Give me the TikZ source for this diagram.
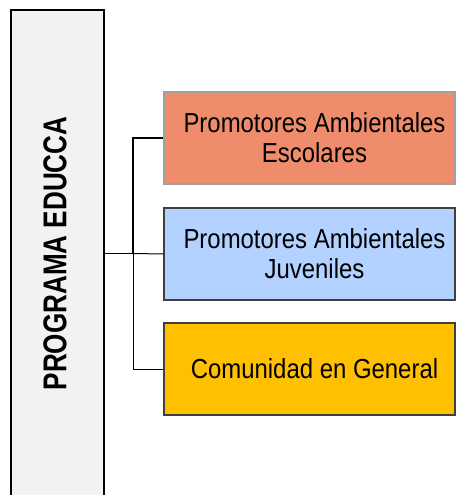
\documentclass[tikz,border=0pt]{standalone}
\usepackage{fontspec}
\setmainfont{Liberation Sans}
\usepackage{tikz}
\usetikzlibrary{positioning}

\definecolor{progfill}{RGB}{242,242,242}
\definecolor{escfill}{RGB}{239,140,107}
\definecolor{escline}{RGB}{160,160,160}
\definecolor{juvfill}{RGB}{180,210,255}
\definecolor{comfill}{RGB}{255,192,0}
\definecolor{boxline}{RGB}{64,64,64}
\newcommand{\angosto}[2][0.87]{\scalebox{#1}[1]{#2}}

\begin{document}
\begin{tikzpicture}[x=1pt,y=1pt,yscale=-1,xscale=1,
  grupo/.style={draw=boxline,line width=1.2,minimum width=291,minimum height=92,inner sep=0pt},
  grupotxt/.style={inner sep=0pt,align=center,font=\fontsize{27.5}{30}\selectfont}]
\useasboundingbox (0,0) rectangle (456,495);
\clip (0,0) rectangle (456,495);

%Programa
\node (prog) [draw=black,fill=progfill,line width=2,minimum width=93,minimum height=487,inner sep=0pt] at (57.5,253.5) {};
\node (progtxt) [rotate=90,font=\bfseries\fontsize{33}{36}\selectfont] at ([xshift=-2.5]prog.center) {\angosto[0.79]{PROGRAMA EDUCCA}};

%Grupos
\node (esc) [grupo,fill=escfill,draw=escline] at (309.5,138) {};
\node (juv) [grupo,fill=juvfill] at (309.5,254) {};
\node (com) [grupo,fill=comfill] at (309.5,369) {};
\node (esctxt) [grupotxt] at ([xshift=5]esc.center) {\angosto{Promotores Ambientales}\\\angosto{Escolares}};
\node (juvtxt) [grupotxt] at ([xshift=5]juv.center) {\angosto{Promotores Ambientales}\\\angosto{Juveniles}};
\node (comtxt) [grupotxt] at ([xshift=5]com.center) {\angosto{Comunidad en General}};

%Conectores
\coordinate (rama) at (133,253.5);
\draw [line width=1.6] (prog.east) -- (rama);
\draw [line width=1.6] (rama) |- (esc.west);
\draw [line width=1] (rama) -- (juv.west);
\draw [line width=1] (rama) |- (com.west);
\end{tikzpicture}
\end{document}
